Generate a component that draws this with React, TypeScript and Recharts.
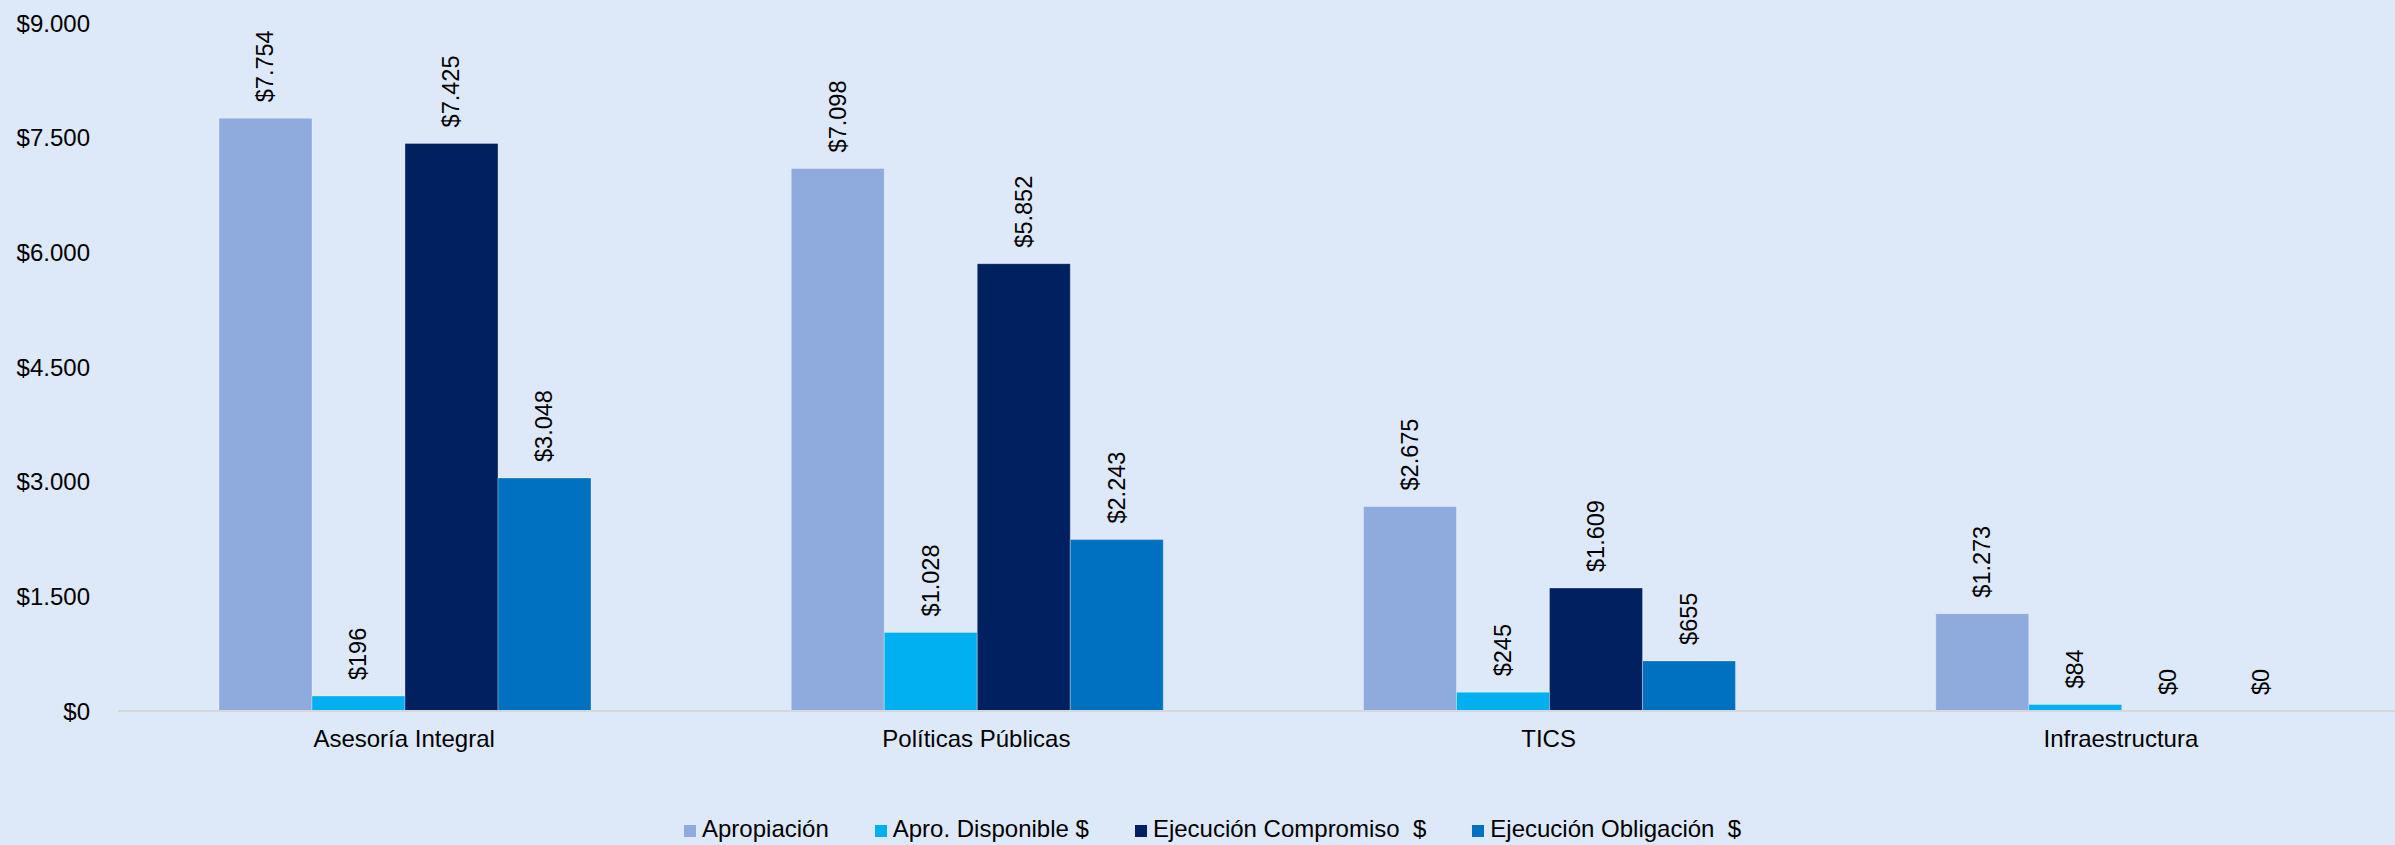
import React from "react";
import { BarChart, Bar, XAxis, YAxis, Legend, LabelList } from "recharts";

const categories = ["Asesoría Integral", "Políticas Públicas", "TICS", "Infraestructura"];
const apropiacion = [7754, 7098, 2675, 1273];
const aproDisponible = [196, 1028, 245, 84];
const ejecCompromiso = [7425, 5852, 1609, 0];
const ejecObligacion = [3048, 2243, 655, 0];
const yTicks = [0, 1500, 3000, 4500, 6000, 7500, 9000];

const seriesNames = ["Apropiación", "Apro. Disponible $", "Ejecución Compromiso  $", "Ejecución Obligación  $"];
const seriesColors = ["#8FAADC", "#00B0F0", "#002060", "#0070C0"];

const data = categories.map((c, i) => ({
  name: c,
  s0: apropiacion[i],
  s1: aproDisponible[i],
  s2: ejecCompromiso[i],
  s3: ejecObligacion[i],
}));

const FONT = '"Liberation Sans", Arial, Helvetica, sans-serif';

const fmt = (v: number) => "$" + Math.round(v).toString().replace(/\B(?=(\d{3})+(?!\d))/g, ".");

const renderLabel = (props: any) => {
  const { x, y, width, value } = props;
  if (x == null || y == null) return null;
  const cx = Number(x) + Number(width) / 2;
  const ty = Number(y) - 16;
  return (
    <text
      x={cx}
      y={ty}
      transform={`rotate(-90 ${cx} ${ty})`}
      textAnchor="start"
      dominantBaseline="central"
      fontSize={23.5}
      fontFamily={FONT}
      fill="#000"
    >
      {fmt(Number(value))}
    </text>
  );
};

const renderLegend = (props: any) => {
  const payload = [...(props.payload || [])].sort(
    (a: any, b: any) => seriesNames.indexOf(a.value) - seriesNames.indexOf(b.value)
  );
  return (
    <div
      style={{
        height: 30,
        display: "flex",
        alignItems: "baseline",
        paddingLeft: 684,
        whiteSpace: "pre",
        fontSize: 24,
        lineHeight: "30px",
        fontFamily: FONT,
        color: "#000",
      }}
    >
      {payload.map((p: any, i: number) => (
        <div key={i} style={{ display: "flex", alignItems: "baseline", marginRight: 46 }}>
          <span style={{ display: "inline-block", width: 12, height: 12, background: p.color, marginRight: 6 }} />
          <span>{p.value}</span>
        </div>
      ))}
    </div>
  );
};

const zeroMin = (v: any) => (Number(v) === 0 ? 0.01 : 0);

export default function App() {
  return (
    <div
      style={{
        position: "fixed",
        left: 0,
        top: 0,
        width: 2395,
        height: 845,
        overflow: "hidden",
        background: "#DDE9F8",
      }}
    >
      <BarChart
        width={2410}
        height={845}
        data={data}
        margin={{ top: 23, right: 3, bottom: 0, left: 0 }}
        barCategoryGap={101}
        barGap={0}
      >
        <XAxis
          dataKey="name"
          tickLine={false}
          tickSize={0}
          tickMargin={19}
          height={104}
          axisLine={{ stroke: "#D4D8DD", strokeWidth: 2 }}
          tick={{ fontSize: 24, fontFamily: FONT, fill: "#000" }}
          interval={0}
        />
        <YAxis
          width={118}
          domain={[0, 9000]}
          ticks={yTicks}
          tickFormatter={fmt}
          axisLine={false}
          tickLine={false}
          tickSize={0}
          tickMargin={28}
          tick={{ fontSize: 24, fontFamily: FONT, fill: "#000" }}
        />
        <Legend
          verticalAlign="bottom"
          content={renderLegend}
          wrapperStyle={{ top: 814, left: 0, width: 2395 }}
        />
        {["s0", "s1", "s2", "s3"].map((k, i) => (
          <Bar
            key={k}
            dataKey={k}
            name={seriesNames[i]}
            fill={seriesColors[i]}
            stroke="#FFFFFF"
            strokeOpacity={0.3}
            strokeWidth={1}
            minPointSize={zeroMin}
            isAnimationActive={false}
          >
            <LabelList dataKey={k} content={renderLabel} />
          </Bar>
        ))}
      </BarChart>
    </div>
  );
}
